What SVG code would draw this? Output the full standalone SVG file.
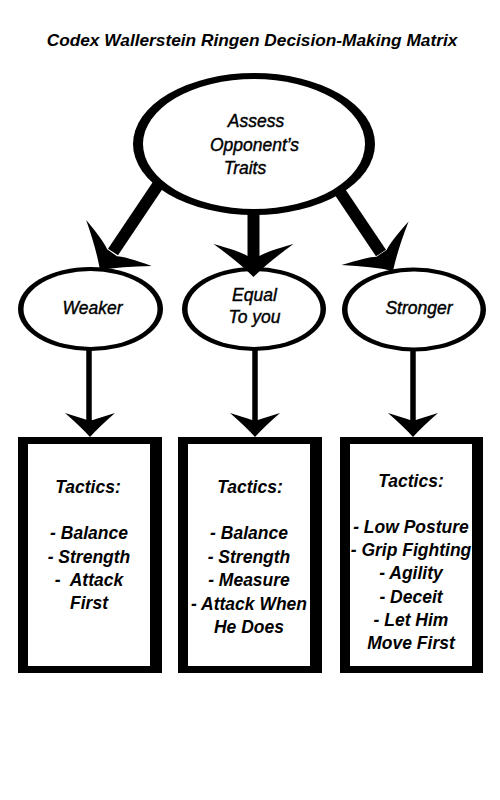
<svg xmlns="http://www.w3.org/2000/svg" width="500" height="800" viewBox="0 0 500 800">
<defs>
<style>
text{font-family:"Liberation Sans",Arial,sans-serif;font-style:italic;fill:#000;text-anchor:middle}
.title{font-size:17.3px;font-weight:bold}
.el{font-size:17.5px;stroke:#000;stroke-width:0.4}
.bx{font-size:17.5px;font-weight:bold;white-space:pre}
.blk{fill:#000}
.wht{fill:#fff}
.shaftB{stroke:#000;stroke-width:12;fill:none}
.shaftS{stroke:#000;stroke-width:5.5;fill:none}
</style>
<path id="headB" d="M0,0 Q-15,-15 -40,-33 Q-14,-26 -6,-21 L6,-21 Q14,-26 40,-33 Q15,-15 0,0 Z"/>
<path id="headS" d="M0,0 Q-9,-10 -25,-24 Q-9,-19 -3,-17 L3,-17 Q9,-19 25,-24 Q9,-10 0,0 Z"/>
</defs>
<rect width="500" height="800" fill="#fff"/>
<text class="title" x="252" y="46">Codex Wallerstein Ringen Decision-Making Matrix</text>

<g id="assess">
<ellipse class="blk" cx="254" cy="144" rx="121" ry="71"/>
<ellipse class="wht" cx="254" cy="144" rx="111" ry="65"/>
<text class="el" x="256" y="127">Assess</text>
<text class="el" x="254.5" y="151">Opponent’s</text>
<text class="el" x="245" y="174">Traits</text>
</g>

<g id="weaker">
<ellipse class="blk" cx="90.5" cy="309" rx="72.5" ry="42"/>
<ellipse class="wht" cx="90.5" cy="309" rx="67" ry="38"/>
<text class="el" x="92.5" y="314">Weaker</text>
</g>
<g id="equal">
<ellipse class="blk" cx="254" cy="309" rx="72" ry="42"/>
<ellipse class="wht" cx="254" cy="309" rx="66.5" ry="38"/>
<text class="el" x="254.5" y="301">Equal</text>
<text class="el" x="254.5" y="323">To you</text>
</g>
<g id="stronger">
<ellipse class="blk" cx="414" cy="309.5" rx="72" ry="42"/>
<ellipse class="wht" cx="414" cy="309.5" rx="66.5" ry="38"/>
<text class="el" x="419" y="314">Stronger</text>
</g>

<g id="box-weaker">
<rect class="blk" x="18" y="437" width="144" height="236"/>
<rect class="wht" x="28" y="444" width="122" height="222"/>
<text class="bx" x="88" y="493">Tactics:</text>
<text class="bx" x="89" y="539">- Balance</text>
<text class="bx" x="89" y="563">- Strength</text>
<text class="bx" x="89" y="586">-  Attack</text>
<text class="bx" x="89" y="609">First</text>
</g>
<g id="box-equal">
<rect class="blk" x="178" y="437" width="144" height="236"/>
<rect class="wht" x="188" y="444" width="122" height="222"/>
<text class="bx" x="250" y="493">Tactics:</text>
<text class="bx" x="249" y="539">- Balance</text>
<text class="bx" x="249" y="563">- Strength</text>
<text class="bx" x="249" y="586">- Measure</text>
<text class="bx" x="249" y="610">- Attack When</text>
<text class="bx" x="249" y="633">He Does</text>
</g>
<g id="box-stronger">
<rect class="blk" x="340" y="437" width="143" height="236"/>
<rect class="wht" x="350" y="444" width="122" height="222"/>
<text class="bx" x="411" y="487">Tactics:</text>
<text class="bx" x="411" y="533">- Low Posture</text>
<text class="bx" x="411" y="556">- Grip Fighting</text>
<text class="bx" x="411" y="579">- Agility</text>
<text class="bx" x="411" y="603">- Deceit</text>
<text class="bx" x="411" y="626">- Let Him</text>
<text class="bx" x="411" y="649">Move First</text>
</g>

<g id="connectors">
<line class="shaftB" x1="158" y1="185" x2="113" y2="252"/>
<use href="#headB" transform="translate(100,270) rotate(35)"/>
<line class="shaftB" x1="253.5" y1="211" x2="253.5" y2="258"/>
<use href="#headB" transform="translate(253.5,277)"/>
<line class="shaftB" x1="340" y1="192" x2="381" y2="253"/>
<use href="#headB" transform="translate(393,271) rotate(-33)"/>
<line class="shaftS" x1="89" y1="349" x2="89" y2="422"/>
<use href="#headS" transform="translate(90,437)"/>
<line class="shaftS" x1="255" y1="349" x2="255" y2="422"/>
<use href="#headS" transform="translate(255,437)"/>
<line class="shaftS" x1="413" y1="350" x2="413" y2="422"/>
<use href="#headS" transform="translate(413,437)"/>
</g>
</svg>
